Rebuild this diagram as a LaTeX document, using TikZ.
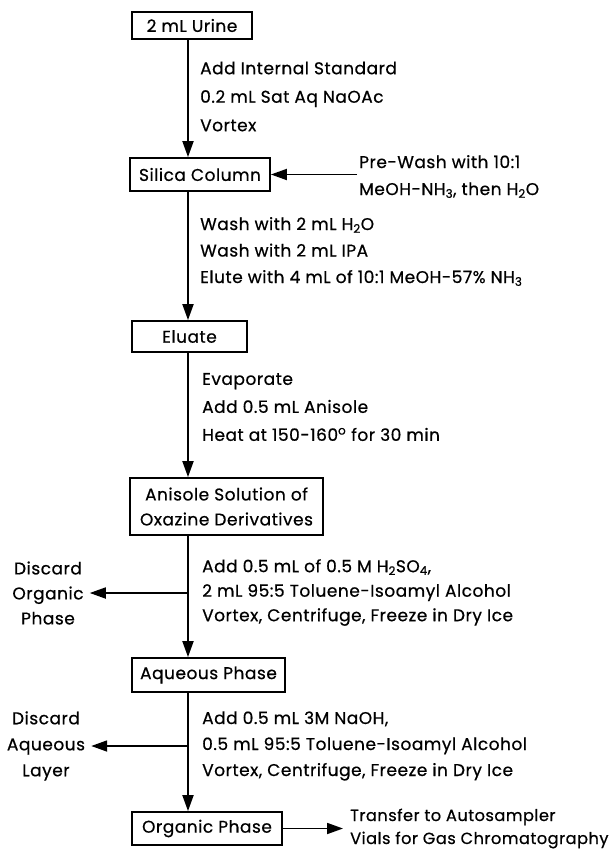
\documentclass[tikz,border=0pt]{standalone}
\usepackage{fontspec}
\setmainfont{Poppins}[LetterSpace=3, FakeBold=0.6]
\usetikzlibrary{arrows.meta}
\begin{document}
\begin{tikzpicture}[x=1pt,y=-1pt,
  box/.style={draw, line width=1.8pt, fill=white, inner sep=0pt, align=center,
    font=\fontsize{17}{25}\selectfont},
  steptext/.style={anchor=west, align=left, inner sep=0pt, font=\fontsize{17}{#1}\selectfont},
  sidetext/.style={align=center, inner ysep=0pt, inner xsep=6pt, font=\fontsize{17}{#1}\selectfont},
  arr/.style={line width=1.8pt, -{Triangle[length=16pt,width=11pt]}}]
\useasboundingbox (0,0) rectangle (616,852);
\coordinate (sp) at (188,0);
% boxes
\node[box, minimum width=120pt, minimum height=27pt] (urine) at (192,25.5) {2 mL Urine};
\node[box, minimum width=140pt, minimum height=33pt] (silica) at (200,174.5) {Silica Column};
\node[box, minimum width=115pt, minimum height=31pt] (eluate) at (189.5,336.5) {Eluate};
\node[box, minimum width=193pt, minimum height=57pt] (anisole) at (226.5,506.5) {Anisole Solution of\\Oxazine Derivatives};
\node[box, minimum width=153pt, minimum height=34pt] (aqueous) at (208.5,675) {Aqueous Phase};
\node[box, minimum width=150pt, minimum height=33pt] (organic) at (207,828.5) {Organic Phase};
% step texts
\node[steptext=28.5] (t1) at (200,96.5) {Add Internal Standard\\0.2 mL Sat Aq NaOAc\\Vortex};
\node[steptext=27, inner sep=2pt] (prewash) at (357,176.5) {Pre-Wash with 10:1\\MeOH-NH\textsubscript{3}, then H\textsubscript{2}O};
\node[steptext=26.5] (t2) at (200,251.5) {Wash with 2 mL H\textsubscript{2}O\\Wash with 2 mL IPA\\Elute with 4 mL of 10:1 MeOH-57\% NH\textsubscript{3}};
\node[steptext=28] (t3) at (202,407) {Evaporate\\Add 0.5 mL Anisole\\Heat at 150-160\textsuperscript{o} for 30 min};
\node[steptext=24.5] (t4) at (202,592.5) {Add 0.5 mL of 0.5 M H\textsubscript{2}SO\textsubscript{4},\\2 mL 95:5 Toluene-Isoamyl Alcohol\\Vortex, Centrifuge, Freeze in Dry Ice};
\node[steptext=26] (t5) at (202,746) {Add 0.5 mL 3M NaOH,\\0.5 mL 95:5 Toluene-Isoamyl Alcohol\\Vortex, Centrifuge, Freeze in Dry Ice};
\node[sidetext=25] (disc1) at (48,593) {Discard\\Organic\\Phase};
\node[sidetext=26] (disc2) at (46,746) {Discard\\Aqueous\\Layer};
\node[steptext=23, inner xsep=7pt, font=\fontsize{16.2}{23}\selectfont] (transfer) at (343,828.5) {Transfer to Autosampler\\Vials for Gas Chromatography};
% connectors
\draw[arr] (urine.south -| sp) -- (silica.north -| sp);
\draw[arr] (silica.south -| sp) -- (eluate.north -| sp);
\draw[arr] (eluate.south -| sp) -- (anisole.north -| sp);
\draw[arr] (anisole.south -| sp) -- (aqueous.north -| sp);
\draw[arr] (aqueous.south -| sp) -- (organic.north -| sp);
\draw[arr] (prewash.west |- silica.east) -- (silica.east);
\draw[arr] (disc1.east -| sp) -- (disc1.east);
\draw[arr] (disc2.east -| sp) -- (disc2.east);
\draw[arr] (organic.east) -- (transfer.west);
\end{tikzpicture}
\end{document}
